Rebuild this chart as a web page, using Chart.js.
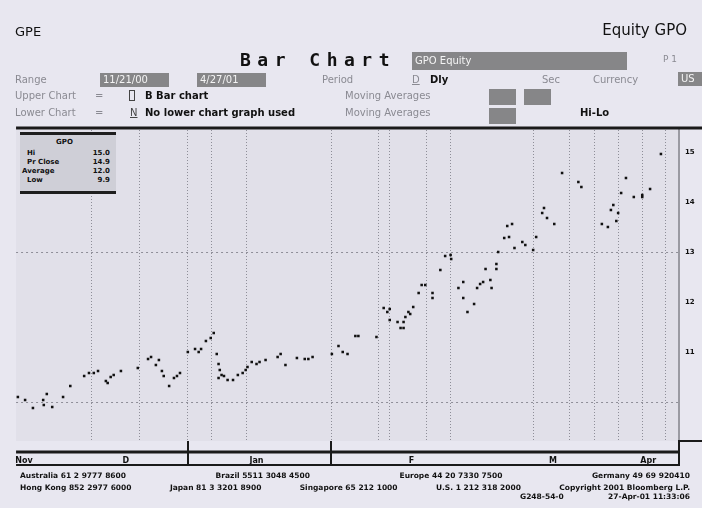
<!DOCTYPE html>
<html>
<head>
<meta charset="utf-8">
<script src="https://cdn.jsdelivr.net/npm/chart.js@4.4.1/dist/chart.umd.min.js"></script>
<style>
  html, body { margin: 0; padding: 0; background: #e8e7f0; }
  #wrap { position: relative; width: 702px; height: 508px; overflow: hidden; font-family: "DejaVu Sans", sans-serif; }
  #chart { position: absolute; left: 0; top: 0; }
  .t { position: absolute; white-space: nowrap; line-height: 1; z-index: 2; }
  .lbl { color: #8a8a92; font-size: 10px; }
  .box { position: absolute; background: #868688; color: #f4f4f4; font-size: 10px; line-height: 14px; padding-left: 3px; box-sizing: border-box; z-index: 2; white-space: nowrap; }
  .bold { font-weight: bold; color: #111; font-size: 10px; }
  #legend { position: absolute; left: 20px; top: 132px; width: 96px; height: 62px; background: #cfcfd7;
            border-top: 3px solid #1e1e1e; border-bottom: 3px solid #1e1e1e; box-sizing: border-box; z-index: 2;
            font-size: 7px; font-weight: bold; color: #111; }
  #legend div { position: absolute; }
  .foot { position: absolute; left: 20px; width: 670px; font-size: 7.5px; font-weight: bold; color: #111;
          display: flex; justify-content: space-between; white-space: nowrap; line-height: 1; z-index: 2; }
</style>
</head>
<body>
<div id="wrap">
  <canvas id="chart" width="702" height="508"></canvas>

  <div class="t" style="left:15px; top:25px; font-size:13px; color:#111;">GPE</div>
  <div class="t" style="right:15px; top:23px; font-size:15px; color:#111;">Equity GPO</div>
  <div class="t" style="left:240px; top:51px; font-size:18px; font-weight:bold; letter-spacing:6.5px; font-family:'DejaVu Sans Mono', monospace; color:#111;">Bar Chart</div>
  <div class="box" style="left:412px; top:52px; width:215px; height:18px; line-height:18px;">GPO Equity</div>
  <div class="t lbl" style="left:663px; top:55px; font-size:9px;">P 1</div>

  <div class="t lbl" style="left:15px; top:75px;">Range</div>
  <div class="box" style="left:100px; top:73px; width:69px; height:14px;">11/21/00</div>
  <div class="box" style="left:197px; top:73px; width:69px; height:14px;">4/27/01</div>
  <div class="t lbl" style="left:322px; top:75px;">Period</div>
  <div class="t lbl" style="left:412px; top:75px; text-decoration:underline;">D</div>
  <div class="t bold" style="left:430px; top:75px;">Dly</div>
  <div class="t lbl" style="left:542px; top:75px;">Sec</div>
  <div class="t lbl" style="left:593px; top:75px;">Currency</div>
  <div class="box" style="left:678px; top:72px; width:24px; height:14px;">US</div>

  <div class="t lbl" style="left:15px; top:91px;">Upper Chart</div>
  <div class="t lbl" style="left:95px; top:91px;">=</div>
  <div class="t" style="left:129px; top:90px; width:6px; height:11px; border:1px solid #444; box-sizing:border-box;"></div>
  <div class="t bold" style="left:145px; top:91px;">B  Bar chart</div>
  <div class="t lbl" style="left:345px; top:91px;">Moving Averages</div>
  <div class="box" style="left:489px; top:89px; width:27px; height:16px;"></div>
  <div class="box" style="left:524px; top:89px; width:27px; height:16px;"></div>

  <div class="t lbl" style="left:15px; top:108px;">Lower Chart</div>
  <div class="t lbl" style="left:95px; top:108px;">=</div>
  <div class="t lbl" style="left:130px; top:108px; text-decoration:underline; color:#444;">N</div>
  <div class="t bold" style="left:145px; top:108px;">No lower chart graph used</div>
  <div class="t lbl" style="left:345px; top:108px;">Moving Averages</div>
  <div class="box" style="left:489px; top:108px; width:27px; height:16px;"></div>
  <div class="t bold" style="left:580px; top:108px;">Hi-Lo</div>

  <div id="legend">
    <div style="left:36px; top:3px;">GPO</div>
    <div style="left:7px; top:14px;">Hi</div><div style="right:6px; top:14px;">15.0</div>
    <div style="left:7px; top:23px;">Pr Close</div><div style="right:6px; top:23px;">14.9</div>
    <div style="left:2px; top:32px;">Average</div><div style="right:6px; top:32px;">12.0</div>
    <div style="left:7px; top:41px;">Low</div><div style="right:6px; top:41px;">9.9</div>
  </div>

  <div class="foot" style="top:472px;"><span>Australia 61 2 9777 8600</span><span>Brazil 5511 3048 4500</span><span>Europe 44 20 7330 7500</span><span>Germany 49 69 920410</span></div>
  <div class="foot" style="top:484px;"><span>Hong Kong 852 2977 6000</span><span>Japan 81 3 3201 8900</span><span>Singapore 65 212 1000</span><span>U.S. 1 212 318 2000</span><span>Copyright 2001 Bloomberg L.P.</span></div>
  <div class="foot" style="top:493px; left:520px; width:170px;"><span>G248-54-0</span><span>27-Apr-01 11:33:06</span></div>
</div>

<script>
// ---- Data (x = trading day since 11/21/00, y = price) ----
const DAY_MIN = 0;
const DAY_MAX = 110;
const PRICE_MIN = 9.22;
const PRICE_MAX = 15.44;

const priceMarks = [
  [0.3, 10.10], [1.5, 10.04], [2.8, 9.88], [4.5, 10.04], [4.6, 9.94], [5.1, 10.16], [6.0, 9.90],
  [7.8, 10.10], [9.0, 10.32], [11.3, 10.52], [12.1, 10.58], [12.9, 10.58], [13.6, 10.62],
  [14.9, 10.42], [15.2, 10.38], [15.7, 10.50], [16.2, 10.54], [17.4, 10.62], [20.2, 10.68],
  [21.9, 10.86], [22.4, 10.90], [23.2, 10.74], [23.7, 10.84], [24.2, 10.62], [24.5, 10.52],
  [25.4, 10.32], [26.2, 10.48], [26.7, 10.52], [27.2, 10.58], [28.5, 11.00], [29.7, 11.06],
  [30.3, 11.00], [30.7, 11.06], [31.5, 11.22], [32.3, 11.28], [32.8, 11.38], [33.3, 10.96],
  [33.6, 10.76], [33.8, 10.64], [34.1, 10.54], [33.6, 10.48], [34.5, 10.52], [35.1, 10.44],
  [36.0, 10.44], [36.8, 10.54], [37.6, 10.58], [38.1, 10.64], [38.4, 10.70], [39.1, 10.80],
  [39.9, 10.76], [40.4, 10.80], [41.4, 10.84], [43.4, 10.90], [43.9, 10.96], [44.7, 10.74],
  [46.6, 10.88], [47.9, 10.86], [48.5, 10.86], [49.2, 10.90], [52.4, 10.96], [53.5, 11.12],
  [54.2, 11.00], [55.0, 10.96], [56.3, 11.32], [56.8, 11.32], [59.8, 11.30], [61.0, 11.88],
  [61.6, 11.80], [62.0, 11.86], [62.0, 11.64], [63.3, 11.60], [63.8, 11.48], [64.3, 11.60],
  [64.3, 11.48], [64.6, 11.70], [65.1, 11.80], [65.4, 11.76], [65.9, 11.90], [66.8, 12.18],
  [67.3, 12.34], [67.9, 12.34], [69.1, 12.18], [69.1, 12.08], [70.4, 12.64], [71.2, 12.92],
  [72.1, 12.94], [72.2, 12.86], [73.4, 12.28], [74.2, 12.40], [74.2, 12.08], [74.9, 11.80],
  [76.0, 11.96], [76.5, 12.28], [77.0, 12.36], [77.5, 12.40], [77.9, 12.66], [78.7, 12.44],
  [78.9, 12.28], [79.7, 12.76], [79.7, 12.66], [80.0, 13.00], [81.0, 13.28], [81.5, 13.52],
  [81.8, 13.30], [82.3, 13.56], [82.7, 13.08], [84.0, 13.20], [84.5, 13.14], [85.8, 13.04],
  [86.3, 13.30], [87.3, 13.78], [87.6, 13.88], [88.1, 13.68], [89.3, 13.56], [90.6, 14.58],
  [93.3, 14.40], [93.8, 14.30], [97.2, 13.56], [98.2, 13.50], [98.7, 13.84], [99.1, 13.94],
  [99.6, 13.62], [99.9, 13.78], [100.4, 14.18], [101.2, 14.48], [102.5, 14.10], [103.9, 14.14],
  [103.9, 14.10], [105.2, 14.26], [107.0, 14.96],
];

// vertical dotted lines (days), horizontal dotted lines (prices)
const gridDays = [12.6, 20.5, 28.5, 32.5, 38.3, 52.3, 60.1, 62.0, 68.1, 72.1, 85.8, 91.9, 95.9, 99.9, 103.9, 107.8];
const gridPrices = [10, 13];
const priceTicks = [10, 11, 12, 13, 14, 15];
const hiddenPriceLabels = [10];

// bottom axis
const periodBreaks = [28.5, 52.3];
const monthLabelDays = [1.3, 18.2, 39.9, 65.6, 89.1, 104.9];
const monthLabels = ["Nov", "D", "Jan", "F", "M", "Apr"];

const GRID_COLOR = "#8e8e98";

// ---- Frame: plot background + the heavy black rules ----
const framePlugin = {
  id: "frame",
  beforeDraw(chart) {
    const { ctx, chartArea: a } = chart;
    ctx.save();
    ctx.fillStyle = "#e1e0e9";
    ctx.fillRect(a.left, a.top, a.right - a.left, a.bottom - a.top);
    ctx.restore();
  },
  afterDraw(chart) {
    const { ctx, chartArea: a } = chart;
    const x = chart.scales.x;
    const line = (x1, y1, x2, y2, w) => {
      ctx.lineWidth = w;
      ctx.beginPath();
      ctx.moveTo(x1, y1);
      ctx.lineTo(x2, y2);
      ctx.stroke();
    };
    ctx.save();
    ctx.strokeStyle = "#1a1a1a";
    line(a.left, a.top - 2, chart.width, a.top - 2, 3);
    line(a.left, a.bottom + 11, a.right, a.bottom + 11, 3);
    line(a.left, a.bottom + 24, a.right, a.bottom + 24, 2);
    for (const d of periodBreaks) {
      const px = Math.round(x.getPixelForValue(d));
      line(px, a.bottom, px, a.bottom + 24, 2);
    }
    line(a.right, a.bottom - 1, a.right, a.bottom + 25, 2);
    line(a.right, a.bottom, chart.width, a.bottom, 2);
    ctx.restore();
  },
};

// ---- Chart ----
new Chart(document.getElementById("chart"), {
  type: "scatter",
  data: {
    datasets: [{
      label: "GPO",
      data: priceMarks.map(([d, v]) => ({ x: d, y: v })),
      backgroundColor: "#111",
      borderColor: "#111",
      borderWidth: 0,
      pointStyle: "rect",
      pointRadius: 1.8,
      pointHoverRadius: 1.8,
    }],
  },
  options: {
    responsive: false,
    animation: false,
    events: [],
    layout: { padding: { left: 15, right: 0, top: 130, bottom: 37 } },
    plugins: { legend: { display: false }, tooltip: { enabled: false } },
    scales: {
      x: {
        type: "linear",
        min: DAY_MIN,
        max: DAY_MAX,
        position: "bottom",
        afterBuildTicks: s => { s.ticks = gridDays.map(v => ({ value: v })); },
        afterFit: s => { s.height = 0; },
        ticks: { display: false },
        grid: { color: GRID_COLOR, lineWidth: 1, drawTicks: false },
        border: { display: false, dash: [1, 2] },
      },
      x2: {
        type: "linear",
        min: DAY_MIN,
        max: DAY_MAX,
        position: "bottom",
        afterBuildTicks: s => { s.ticks = monthLabelDays.map(v => ({ value: v })); },
        afterFit: s => { s.height = 30; },
        ticks: {
          autoSkip: false,
          maxRotation: 0,
          padding: 15,
          color: "#111",
          font: { family: "DejaVu Sans", size: 8, weight: "bold" },
          callback: (v, i) => monthLabels[i],
        },
        grid: { display: false, drawTicks: false },
        border: { display: false },
      },
      y: {
        type: "linear",
        position: "right",
        min: PRICE_MIN,
        max: PRICE_MAX,
        afterBuildTicks: s => { s.ticks = priceTicks.map(v => ({ value: v })); },
        afterFit: s => { s.width = 23; },
        ticks: {
          padding: 6,
          color: "#111",
          font: { family: "DejaVu Sans", size: 7, weight: "bold" },
          callback: v => (hiddenPriceLabels.includes(v) ? "" : String(v)),
        },
        grid: {
          drawTicks: false,
          lineWidth: 1,
          color: c => (c.tick && gridPrices.includes(c.tick.value) ? GRID_COLOR : "rgba(0,0,0,0)"),
        },
        border: { display: true, color: "#9a9aa2", width: 2, dash: [2, 3] },
      },
    },
  },
  plugins: [framePlugin],
});
</script>
</body>
</html>
